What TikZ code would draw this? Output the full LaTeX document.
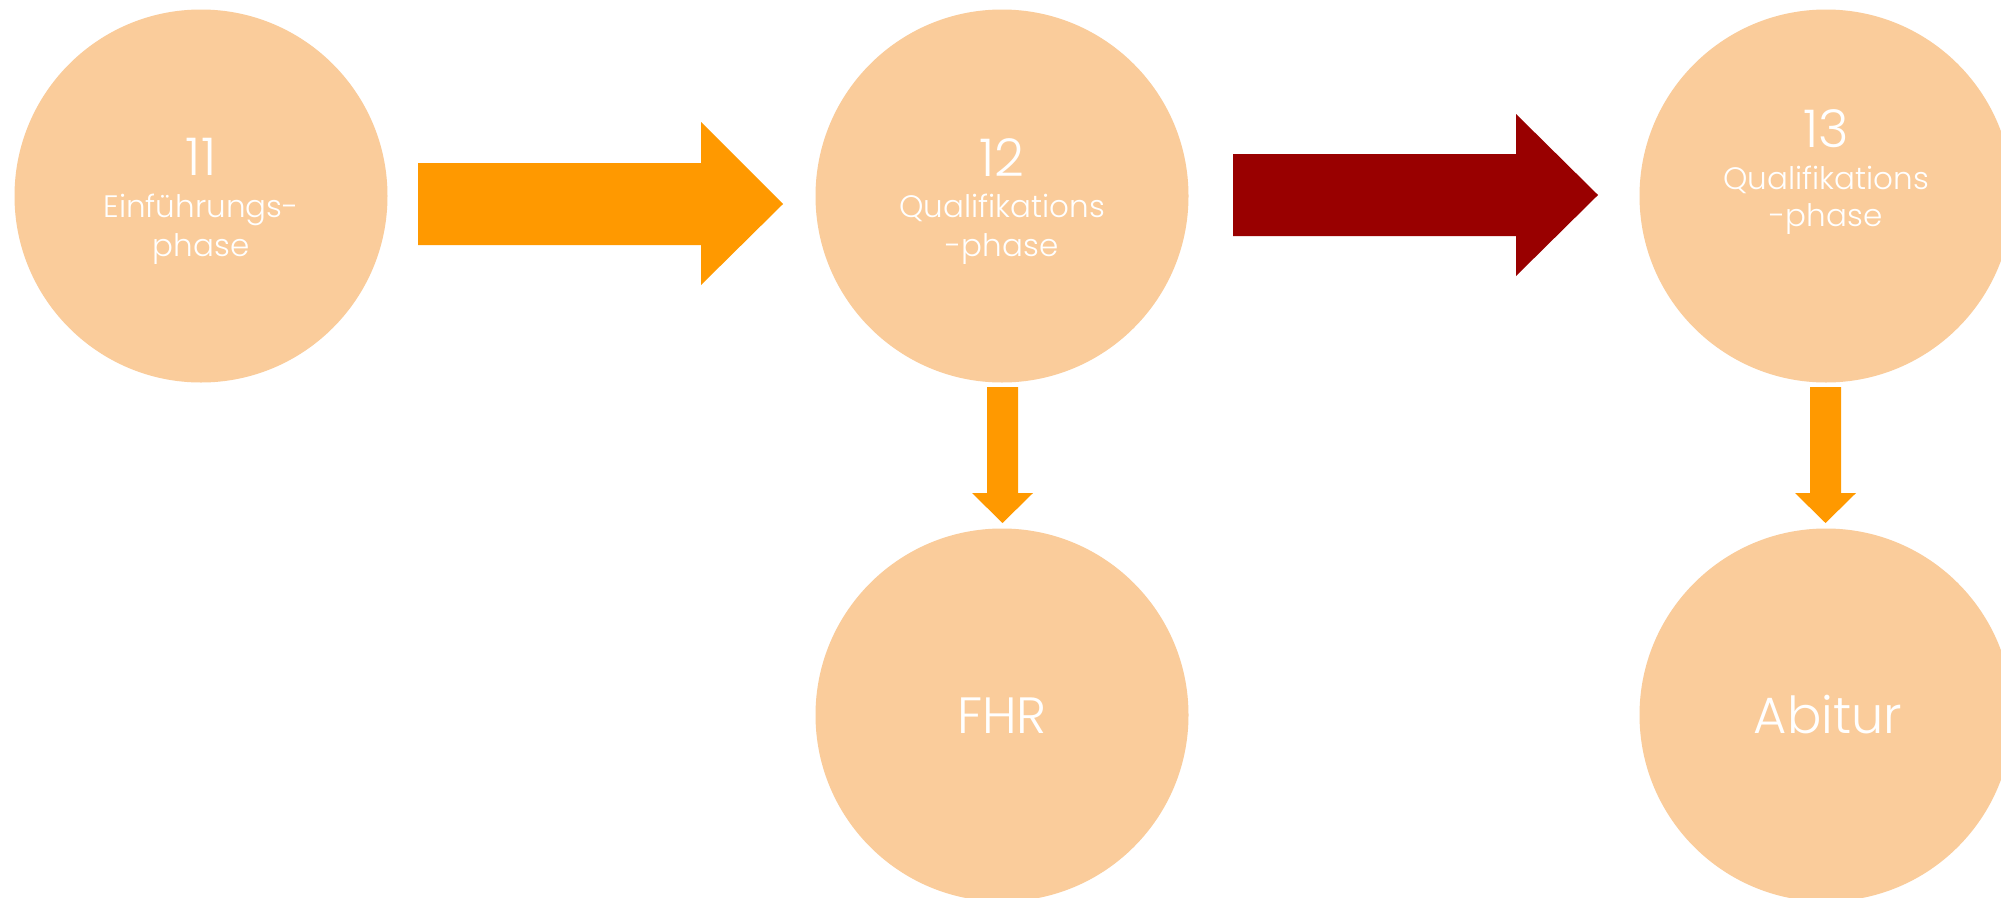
\documentclass[tikz,border=0pt]{standalone}
\usepackage{fontspec}
\setmainfont{Poppins Light}
\definecolor{circfill}{RGB}{250,204,155}
\definecolor{arroworange}{RGB}{255,153,0}
\definecolor{arrowred}{RGB}{153,0,0}
\tikzset{
  phasecircle/.style={circle, fill=circfill, draw=none, minimum size=373pt, inner sep=0pt},
  numtext/.style={anchor=base, text=white, font=\fontsize{52}{52}\selectfont, inner sep=0pt},
  labtext/.style={anchor=base, text=white, font=\fontsize{31}{31}\selectfont, inner sep=0pt},
  bigtext/.style={anchor=base, text=white, font=\fontsize{51}{51}\selectfont, inner sep=0pt},
  orangearrow/.style={fill=arroworange, draw=none},
  redarrow/.style={fill=arrowred, draw=none}
}
\begin{document}
\begin{tikzpicture}[x=1pt, y=-1pt]
\clip (0,0) rectangle (2001,897);
\fill[white] (0,0) rectangle (2001,897);

% circles
\node[phasecircle] (c11) at (201,196) {};
\node[phasecircle] (c12) at (1002,196) {};
\node[phasecircle] (c13) at (1826,196) {};
\node[phasecircle] (fhr) at (1002,715) {};
\node[phasecircle] (abi) at (1826,715) {};

% texts circle 11
\node[numtext] (n11) at (201,175) {11};
\node[labtext] (l11a) at (201,217) {Einführungs-};
\node[labtext] (l11b) at (201,256) {phase};

% texts circle 12
\node[numtext] (n12) at (1002,176) {12};
\node[labtext] (l12a) at (1002,217) {Qualifikations};
\node[labtext] (l12b) at (1002,256) {-phase};

% texts circle 13
\node[numtext] (n13) at (1826,147) {13};
\node[labtext] (l13a) at (1826,189) {Qualifikations};
\node[labtext] (l13b) at (1826,226) {-phase};

% bottom texts
\node[bigtext] (tfhr) at (1002,733) {FHR};
\node[bigtext] (tabi) at (1828,733) {Abitur};

% arrow 11 -> 12
\fill[orangearrow] (418,163) -- (701,163) -- (701,122) -- (783,204) -- (701,285) -- (701,245) -- (418,245) -- cycle;
% arrow 12 -> 13
\fill[redarrow] (1233,154) -- (1516,154) -- (1516,114) -- (1598,195) -- (1516,276) -- (1516,236) -- (1233,236) -- cycle;
% arrow 12 -> FHR
\fill[orangearrow] (987,387) -- (1018,387) -- (1018,493) -- (1033,493) -- (1002.5,523) -- (972,493) -- (987,493) -- cycle;
% arrow 13 -> Abitur
\fill[orangearrow] (1810,387) -- (1841,387) -- (1841,493) -- (1856,493) -- (1825.5,523) -- (1795,493) -- (1810,493) -- cycle;
\end{tikzpicture}
\end{document}
